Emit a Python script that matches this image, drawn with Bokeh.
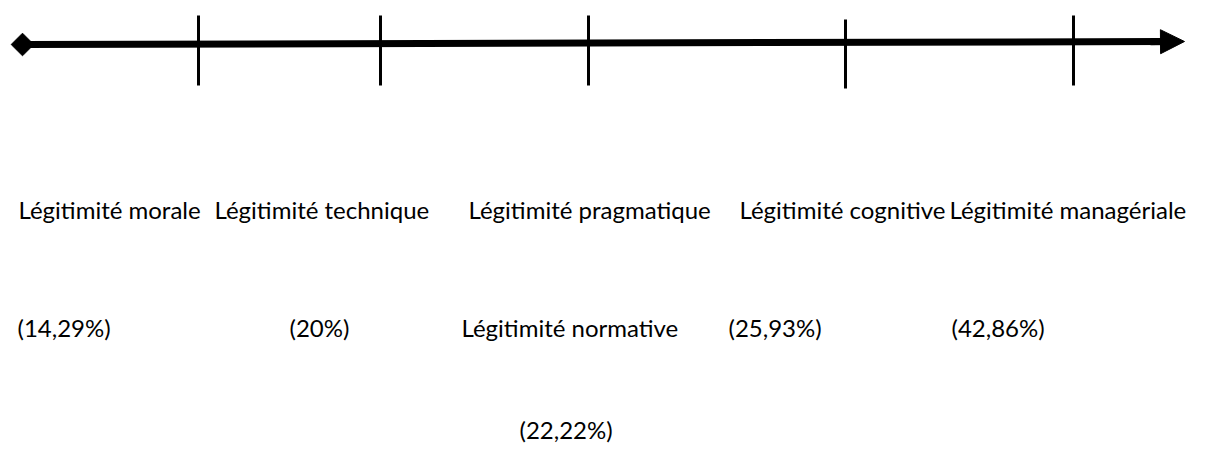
import math
from bokeh.plotting import figure
from bokeh.models import Range1d, Arrow, NormalHead, ColumnDataSource
from bokeh.core.properties import value
from bokeh.embed import file_html
from bokeh.resources import INLINE

# ---- data ----
levels = ["Légitimité morale", "Légitimité technique", "Légitimité pragmatique",
          "Légitimité cognitive", "Légitimité managériale"]
extra_levels = ["Légitimité normative"]          # shares the 3rd step with "pragmatique"
shares = [14.29, 20, 22.22, 25.93, 42.86]

def fmt(v):
    s = ("%.2f" % v).rstrip("0").rstrip(".")
    return "(" + s.replace(".", ",") + "%)"

# ---- layout (pixel positions in the reference) ----
tick_x = [198, 380, 588, 845, 1073]
tick_top = [15, 15, 15, 19, 15]
tick_bot = [85, 85, 85, 88, 85]
label_x = [18, 214, 468, 739, 949]
extra_x = [461]
share_x = [17, 289, 519, 728, 951]
row1_y, row2_y, row3_y = 209, 327, 429

FONT = "Lato"
FS = "24px"

p = figure(width=1190, height=444, output_backend="svg", toolbar_location=None,
           x_range=Range1d(0, 1190), y_range=Range1d(444, 0), min_border=0)
p.axis.visible = False
p.grid.visible = False
p.outline_line_color = None
p.background_fill_color = "white"

# main axis line
p.segment(x0=[22], y0=[44], x1=[1162], y1=[41], line_color="black", line_width=7)
p.add_layout(Arrow(end=NormalHead(size=24, fill_color="black", line_color="black"),
                   x_start=1150, y_start=41.3, x_end=1184, y_end=41,
                   line_color="black", line_width=7))
p.scatter(x=[22], y=[44], marker="square", size=16, angle=math.pi / 4, color="black")

# ticks
p.segment(x0=tick_x, y0=tick_top, x1=tick_x, y1=tick_bot, line_color="black", line_width=3)

# labels
src1 = ColumnDataSource(dict(x=label_x, y=[row1_y] * len(levels), t=levels))
p.text(x="x", y="y", text="t", source=src1, text_font=value(FONT), text_font_size=FS,
       text_baseline="middle", text_align="left", text_color="black")

pct = [fmt(v) for v in shares]
row_y = [row2_y, row2_y, row3_y, row2_y, row2_y]
src2 = ColumnDataSource(dict(x=share_x, y=row_y, t=pct))
p.text(x="x", y="y", text="t", source=src2, text_font=value(FONT), text_font_size=FS,
       text_baseline="middle", text_align="left", text_color="black")

src3 = ColumnDataSource(dict(x=extra_x, y=[row2_y], t=extra_levels))
p.text(x="x", y="y", text="t", source=src3, text_font=value(FONT), text_font_size=FS,
       text_baseline="middle", text_align="left", text_color="black")

open("out.html", "w").write(file_html(p, INLINE))
